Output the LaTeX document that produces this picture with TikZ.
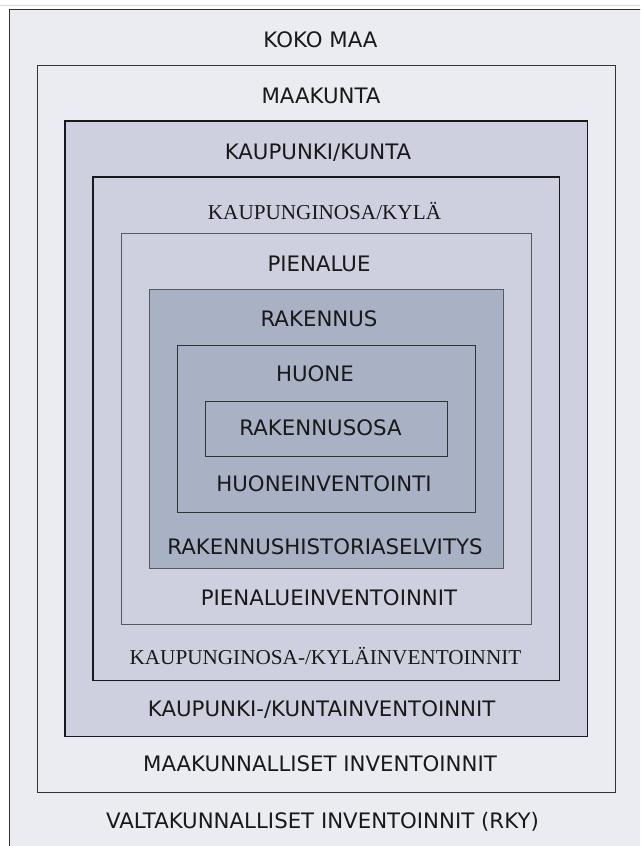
\documentclass[tikz,border=0pt]{standalone}
\usepackage{fontspec}
\setmainfont{Liberation Serif}
\setsansfont{DejaVu Sans}
\definecolor{palebox}{HTML}{EBECF1}
\definecolor{midbox}{HTML}{CED0DF}
\definecolor{darkbox}{HTML}{A9B1C4}

\begin{document}
\begin{tikzpicture}[x=1pt,y=-1pt,
		lvl/.style={draw=black!80,line width=1pt},
		boldlvl/.style={draw=black!90,line width=1.6pt},
		lbl/.style={anchor=base,inner sep=0pt,text=black!90,font=\sffamily\fontsize{21.3}{25}\selectfont},
		slbl/.style={anchor=base,inner sep=0pt,text=black!90,font=\rmfamily\fontsize{21.2}{25}\selectfont}]
		\useasboundingbox (0,0) rectangle (640,846);
		\clip (0,0) rectangle (640,846);
		\fill[white] (0,0) rectangle (640,846);
		\draw[black!15] (0,5.5) -- (640,5.5);

		% nested levels, outermost first
		\draw[lvl,fill=palebox] (9,9) rectangle (645,851);
		\draw[lvl,fill=palebox] (37,65) rectangle (615.5,792.5);
		\draw[boldlvl,fill=midbox] (65,121) rectangle (587.5,736.5);
		\draw[boldlvl,fill=midbox] (93,177) rectangle (559.5,680.5);
		\draw[lvl,draw=black!65,fill=midbox] (121,233) rectangle (531.5,624.5);
		\draw[lvl,draw=black!65,fill=darkbox] (149,289) rectangle (503.5,568.5);
		\draw[lvl,fill=darkbox] (177,345) rectangle (475.5,512.5);
		\draw[lvl,fill=darkbox] (205,401) rectangle (447.5,456.5);

		% level names
		\node[lbl] (koko) at (320.5,47) {KOKO MAA};
		\node[lbl] (maak) at (321,103.5) {MAAKUNTA};
		\node[lbl] (kunta) at (318,159) {KAUPUNKI/KUNTA};
		\node[slbl] (kyla) at (324.5,219) {KAUPUNGINOSA/KYLÄ};
		\node[lbl] (pien) at (319,271.7) {PIENALUE};
		\node[lbl] (rak) at (319,326.7) {RAKENNUS};
		\node[lbl] (huone) at (315,381.7) {HUONE};
		\node[lbl] (rakosa) at (320.5,435) {RAKENNUSOSA};

		% inventories
		\node[lbl] (huoneinv) at (324,491) {HUONEINVENTOINTI};
		\node[lbl] (rakhist) at (325,554.3) {RAKENNUSHISTORIASELVITYS};
		\node[lbl] (pieninv) at (329,605) {PIENALUEINVENTOINNIT};
		\node[slbl] (kylainv) at (325.5,664.3) {KAUPUNGINOSA-/KYLÄINVENTOINNIT};
		\node[lbl] (kuntainv) at (321.7,716) {KAUPUNKI-/KUNTAINVENTOINNIT};
		\node[lbl] (maakinv) at (320,771.7) {MAAKUNNALLISET INVENTOINNIT};
		\node[lbl] (rky) at (322.5,828.3) {VALTAKUNNALLISET INVENTOINNIT (RKY)};
\end{tikzpicture}
\end{document}
